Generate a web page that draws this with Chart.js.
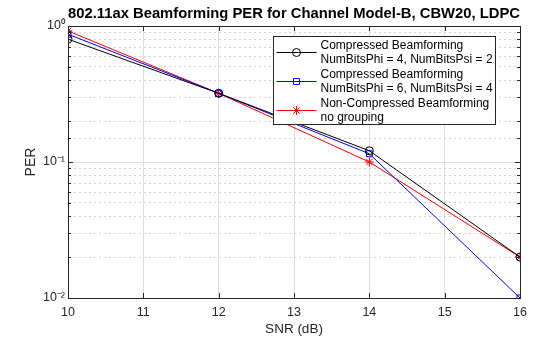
<!DOCTYPE html>
<html>
<head>
<meta charset="utf-8">
<script src="https://cdn.jsdelivr.net/npm/chart.js@4/dist/chart.umd.min.js"></script>
<style>
  html, body { margin: 0; padding: 0; background: #fff; }
  #wrap { width: 560px; height: 337px; }
</style>
</head>
<body>
<div id="wrap"><canvas id="perChart"></canvas></div>
<script>
/* PER vs SNR */
const snr = [10, 12, 14, 16];
const perPhi4Psi2 = [0.80, 0.32, 0.121, 0.02];
const perPhi6Psi4 = [0.87, 0.32, 0.115, 0.01];
const perNonComp = [0.92, 0.32, 0.10, 0.02];
const xTickMin = 10, xTickMax = 16, xTickStep = 1;
const yTickLabels = { '1': '10⁰', '0.1': '10⁻¹', '0.01': '10⁻²' };
const legendLines = [
  ['Compressed Beamforming', 'NumBitsPhi = 4, NumBitsPsi = 2'],
  ['Compressed Beamforming', 'NumBitsPhi = 6, NumBitsPsi = 4'],
  ['Non-Compressed Beamforming', 'no grouping']
];

const FONT = "'Liberation Sans', Arial, Helvetica, sans-serif";
const isDecade = v => { const l = Math.log10(v); return Math.abs(l - Math.round(l)) < 1e-6; };

// box round the axes, inward tick marks, two-line legend
const matlabFrame = {
  id: 'matlabFrame',
  afterDatasetsDraw(chart) {
    const { ctx, chartArea: a } = chart;
    const xs = chart.scales.x, ys = chart.scales.y;
    ctx.save();
    ctx.strokeStyle = '#262626';
    ctx.lineWidth = 1;
    ctx.beginPath();
    xs.ticks.forEach(t => {
      const px = Math.round(xs.getPixelForValue(t.value)) + 0.5;
      ctx.moveTo(px, a.bottom); ctx.lineTo(px, a.bottom - 5);
      ctx.moveTo(px, a.top); ctx.lineTo(px, a.top + 5);
    });
    ys.ticks.forEach(t => {
      const py = Math.round(ys.getPixelForValue(t.value)) + 0.5;
      const len = isDecade(t.value) ? 5 : 3;
      ctx.moveTo(a.left, py); ctx.lineTo(a.left + len, py);
      ctx.moveTo(a.right, py); ctx.lineTo(a.right - len, py);
    });
    ctx.stroke();
    ctx.strokeRect(Math.round(a.left) + 0.5, Math.round(a.top) + 0.5,
      Math.round(a.right - a.left), Math.round(a.bottom - a.top));
    ctx.restore();
  },
  afterDraw(chart) {
    const { ctx, chartArea: a } = chart;
    const w = 222, h = 88;
    const left = Math.round(a.right - 25 - w) + 0.5, top = Math.round(a.top + 10) + 0.5;
    ctx.save();
    ctx.fillStyle = '#fff';
    ctx.fillRect(left, top, w, h);
    ctx.strokeStyle = '#262626';
    ctx.lineWidth = 1;
    ctx.strokeRect(left, top, w, h);
    ctx.font = '12px ' + FONT;
    ctx.textBaseline = 'middle';
    chart.data.datasets.forEach((ds, i) => {
      const cy = top + 16 + i * 29;
      ctx.strokeStyle = ds.borderColor;
      ctx.beginPath();
      ctx.moveTo(left + 3, cy); ctx.lineTo(left + 43, cy);
      ctx.stroke();
      ctx.fillStyle = 'rgba(0,0,0,0)';
      Chart.helpers.drawPoint(ctx, { pointStyle: ds.pointStyle, radius: ds.pointRadius, rotation: 0, borderWidth: 1 }, left + 23, cy);
      ctx.fillStyle = '#000';
      ctx.fillText(legendLines[i][0], left + 47, cy - 7);
      ctx.fillText(legendLines[i][1], left + 47, cy + 7);
    });
    ctx.restore();
  }
};

const mk = (label, data, color, style, r) => ({
  label, data: snr.map((x, i) => ({ x, y: data[i] })),
  borderColor: color, backgroundColor: color, borderWidth: 1,
  pointStyle: style, pointRadius: r, pointHoverRadius: r,
  pointBorderColor: color, pointBackgroundColor: 'rgba(0,0,0,0)', pointBorderWidth: 1,
  tension: 0
});

new Chart(document.getElementById('perChart').getContext('2d'), {
  type: 'line',
  data: {
    datasets: [
      mk(legendLines[0].join(' '), perPhi4Psi2, '#000000', 'circle', 4),
      mk(legendLines[1].join(' '), perPhi6Psi4, '#0000ff', 'rect', 4.2),
      mk(legendLines[2].join(' '), perNonComp, '#ff0000', 'star', 4.5)
    ]
  },
  options: {
    responsive: true, maintainAspectRatio: false, animation: false,
    layout: { padding: { left: 0, right: 40, top: 0, bottom: 0 } },
    plugins: {
      legend: { display: false },
      tooltip: { enabled: false },
      title: {
        display: true, fullSize: false,
        text: '802.11ax Beamforming PER for Channel Model-B, CBW20, LDPC',
        color: '#000', font: { family: FONT, size: 15, weight: 'bold' },
        padding: { top: 5, bottom: 3 }
      }
    },
    scales: {
      x: {
        type: 'linear', min: xTickMin, max: xTickMax,
        ticks: { stepSize: xTickStep, color: '#262626', font: { family: FONT, size: 12.5 }, padding: 7 },
        grid: { color: '#dfdfdf', drawTicks: false },
        border: { color: '#262626' },
        title: { display: true, text: 'SNR (dB)', color: '#262626', font: { family: FONT, size: 13.5 }, padding: { top: 0, bottom: 0 } },
        afterFit: s => { s.height = 39; }
      },
      y: {
        type: 'logarithmic', min: 0.01, max: 1,
        ticks: {
          autoSkip: false, color: '#262626', font: { family: FONT, size: 12.5 }, padding: 3,
          callback: v => yTickLabels[String(v)] || ''
        },
        grid: { color: c => (c.tick && isDecade(c.tick.value)) ? '#dfdfdf' : '#d4d4d4', drawTicks: false },
        border: { color: '#262626', dash: c => (c.tick && !isDecade(c.tick.value)) ? [2, 3] : [] },
        title: { display: true, text: 'PER', color: '#262626', font: { family: FONT, size: 14 }, padding: { top: 23, bottom: 0 } },
        afterFit: s => { s.width = 68; }
      }
    }
  },
  plugins: [matlabFrame]
});
</script>
</body>
</html>
